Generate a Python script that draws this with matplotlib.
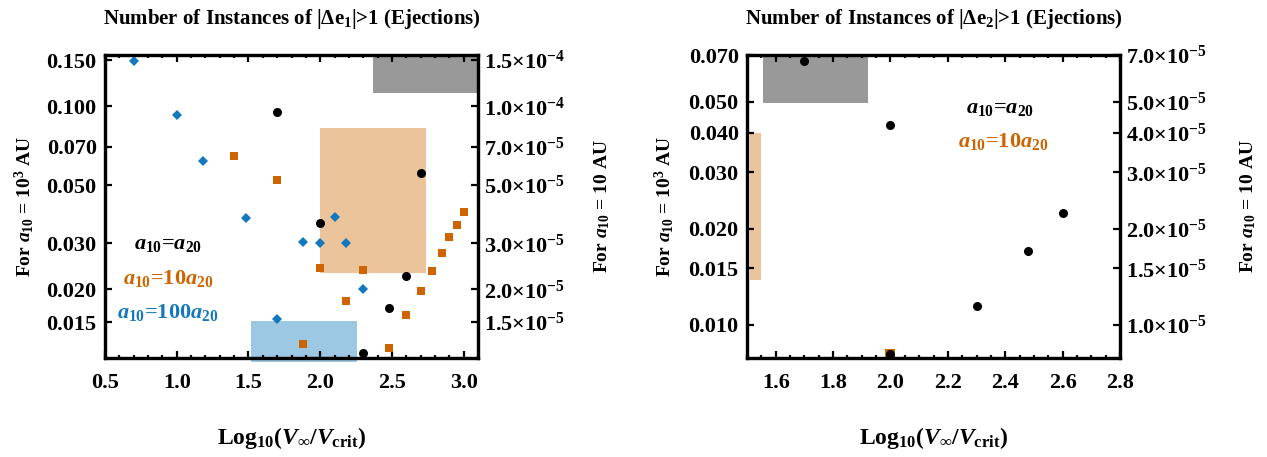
import matplotlib
matplotlib.use("Agg")
import matplotlib.pyplot as plt
from matplotlib.ticker import MultipleLocator, NullLocator, FixedLocator, FixedFormatter

plt.rcParams['font.family'] = ['Liberation Serif', 'DejaVu Serif']
plt.rcParams['font.weight'] = 'bold'
plt.rcParams['axes.labelweight'] = 'bold'
plt.rcParams['mathtext.fontset'] = 'custom'
plt.rcParams['mathtext.rm'] = 'Liberation Serif:bold'
plt.rcParams['mathtext.it'] = 'Liberation Serif:italic:bold'
plt.rcParams['mathtext.bf'] = 'Liberation Serif:bold'

# ---- left panel: |De1| > 1 ----
eq_x1 = [1.7, 2.0, 2.3, 2.48, 2.6, 2.7]
eq_y1 = [0.0953, 0.0359, 0.0114, 0.0170, 0.0225, 0.0555]
ten_x1 = [1.4, 1.7, 1.88, 2.0, 2.18, 2.3, 2.48, 2.6, 2.7, 2.78, 2.85, 2.9, 2.95, 3.0]
ten_y1 = [0.0646, 0.0523, 0.0124, 0.0242, 0.0180, 0.0237, 0.0119, 0.0159,
          0.0198, 0.0235, 0.0276, 0.0316, 0.0353, 0.0393]
hund_x1 = [0.7, 1.0, 1.18, 1.48, 1.7, 1.88, 2.0, 2.1, 2.18, 2.3]
hund_y1 = [0.149, 0.0925, 0.0618, 0.0375, 0.0154, 0.0304, 0.0301, 0.0378, 0.0301, 0.0200]

# shaded ranges (x0, x1, y0, y1)
gray_box1 = [2.37, 3.1, 0.1126, 0.157]
orange_box1 = [2.0, 2.74, 0.0230, 0.0824]
blue_box1 = [1.52, 2.256, 0.0106, 0.0151]

# ---- right panel: |De2| > 1 ----
eq_x2 = [1.7, 2.0, 2.0, 2.3, 2.48, 2.6]
eq_y2 = [0.067, 0.0423, 0.0081, 0.0114, 0.0170, 0.0224]
ten_x2 = [2.0]
ten_y2 = [0.0081]

gray_box2 = [1.555, 1.92, 0.0496, 0.070]
orange_box2 = [1.51, 1.55, 0.0138, 0.040]

yticks1 = [0.015, 0.02, 0.03, 0.05, 0.07, 0.1, 0.15]
ylabels1 = ["0.015", "0.020", "0.030", "0.050", "0.070", "0.100", "0.150"]
rlabels1 = [r"1.5×$10^{-5}$", r"2.0×$10^{-5}$", r"3.0×$10^{-5}$",
            r"5.0×$10^{-5}$", r"7.0×$10^{-5}$", r"1.0×$10^{-4}$",
            r"1.5×$10^{-4}$"]
yticks2 = [0.01, 0.015, 0.02, 0.03, 0.04, 0.05, 0.07]
ylabels2 = ["0.010", "0.015", "0.020", "0.030", "0.040", "0.050", "0.070"]
rlabels2 = [r"1.0×$10^{-5}$", r"1.5×$10^{-5}$", r"2.0×$10^{-5}$",
            r"3.0×$10^{-5}$", r"4.0×$10^{-5}$", r"5.0×$10^{-5}$",
            r"7.0×$10^{-5}$"]

c_black = "black"
c_orange = "#cd6400"
c_blue = "#1478be"

fig = plt.figure(figsize=(12.67, 4.57), dpi=100)
ax1 = fig.add_axes([0.0829, 0.2166, 0.2944, 0.663])
ax2 = fig.add_axes([0.5896, 0.2166, 0.2944, 0.663])


def box(ax, b, color):
    ax.fill_between([b[0], b[1]], b[2], b[3], color=color, lw=0, zorder=1, clip_on=False)


def style(ax, xlim, ylim, yt, yl, rl, major, minor):
    ax.set_yscale("log")
    ax.set_xlim(*xlim)
    ax.set_ylim(*ylim)
    ax.xaxis.set_major_locator(MultipleLocator(major))
    ax.xaxis.set_minor_locator(MultipleLocator(minor))
    ax.yaxis.set_major_locator(FixedLocator(yt))
    ax.yaxis.set_major_formatter(FixedFormatter(yl))
    ax.yaxis.set_minor_locator(NullLocator())
    ax.tick_params(which="both", direction="in", top=True, right=False,
                   width=1.6, labelsize=16)
    ax.tick_params(which="major", length=5)
    ax.tick_params(which="minor", length=2.5)
    ax.tick_params(axis="x", pad=11)
    ax.tick_params(axis="y", pad=6)
    tw = ax.twinx()
    tw.set_yscale("log")
    tw.set_ylim(ylim[0] * 1e-3, ylim[1] * 1e-3)
    tw.yaxis.set_major_locator(FixedLocator([v * 1e-3 for v in yt]))
    tw.yaxis.set_major_formatter(FixedFormatter(rl))
    tw.yaxis.set_minor_locator(NullLocator())
    tw.tick_params(direction="in", length=5, width=1.6, labelsize=16, pad=4)
    for a in (ax, tw):
        for s in a.spines.values():
            s.set_linewidth(2.3)
    ax.set_xlabel(r"Log$_{10}$($V_{\infty}$/$V_{\mathrm{crit}}$)", fontsize=17)
    ax.xaxis.set_label_coords(0.5, -0.22)
    ax.set_ylabel(r"For $a_{10}$ = $10^3$ AU", fontsize=14)
    tw.set_ylabel(r"For $a_{10}$ = 10 AU", fontsize=14, rotation=90, va="bottom")
    return tw


tw1 = style(ax1, (0.5, 3.1), (0.01094, 0.1568), yticks1, ylabels1, rlabels1, 0.5, 0.1)
ax1.yaxis.set_label_coords(-0.185, 0.5)
tw1.yaxis.set_label_coords(1.36, 0.5)

box(ax1, gray_box1, "#999999")
box(ax1, orange_box1, "#ecc49c")
box(ax1, blue_box1, "#9dc8e3")
ax1.plot(hund_x1, hund_y1, "D", color=c_blue, ms=5.6, mew=0, zorder=3, clip_on=False)
ax1.plot(ten_x1, ten_y1, "s", color=c_orange, ms=6, mew=0, zorder=3, clip_on=False)
ax1.plot(eq_x1, eq_y1, "o", color=c_black, ms=6.5, mew=0, zorder=4, clip_on=False)

ax1.text(0.169, 0.376, r"$a_{10}$=$a_{20}$", color=c_black, fontsize=16,
         ha="center", va="center", transform=ax1.transAxes)
ax1.text(0.169, 0.264, r"$a_{10}$=10$a_{20}$", color=c_orange, fontsize=16,
         ha="center", va="center", transform=ax1.transAxes)
ax1.text(0.169, 0.149, r"$a_{10}$=100$a_{20}$", color=c_blue, fontsize=16,
         ha="center", va="center", transform=ax1.transAxes)
ax1.text(0.5, 1.12, r"Number of Instances of $|\Delta \mathrm{e}_1|$>1 (Ejections)",
         fontsize=15, ha="center", va="center", transform=ax1.transAxes)

tw2 = style(ax2, (1.5, 2.8), (0.00786, 0.070), yticks2, ylabels2, rlabels2, 0.2, 0.05)
ax2.yaxis.set_label_coords(-0.19, 0.5)
tw2.yaxis.set_label_coords(1.37, 0.5)

box(ax2, gray_box2, "#999999")
box(ax2, orange_box2, "#ecc49c")
ax2.plot(ten_x2, ten_y2, "s", color=c_orange, ms=7.5, mew=0, zorder=3, clip_on=False)
ax2.plot(eq_x2, eq_y2, "o", color=c_black, ms=6.5, mew=0, zorder=4, clip_on=False)

ax2.text(0.678, 0.825, r"$a_{10}$=$a_{20}$", color=c_black, fontsize=16,
         ha="center", va="center", transform=ax2.transAxes)
ax2.text(0.686, 0.713, r"$a_{10}$=10$a_{20}$", color=c_orange, fontsize=16,
         ha="center", va="center", transform=ax2.transAxes)
ax2.text(0.5, 1.12, r"Number of Instances of $|\Delta \mathrm{e}_2|$>1 (Ejections)",
         fontsize=15, ha="center", va="center", transform=ax2.transAxes)

fig.savefig("out.png", dpi=100)
